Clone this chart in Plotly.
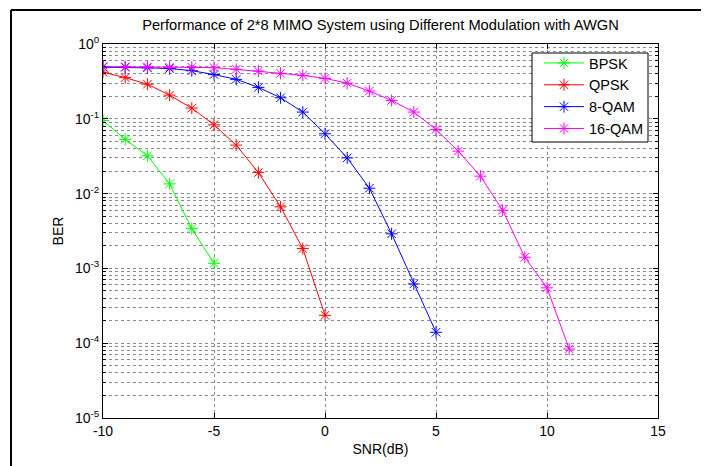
import plotly.graph_objects as go

# ---- data ----
snr_bpsk = [-10, -9, -8, -7, -6, -5]
ber_bpsk = [0.095, 0.053, 0.032, 0.0135, 0.0034, 0.00117]

snr_qpsk = [-10, -9, -8, -7, -6, -5, -4, -3, -2, -1, 0]
ber_qpsk = [0.42, 0.355, 0.29, 0.207, 0.139, 0.083, 0.0445, 0.0191, 0.00665, 0.00184, 0.000236]

snr_8qam = [-10, -9, -8, -7, -6, -5, -4, -3, -2, -1, 0, 1, 2, 3, 4, 5]
ber_8qam = [0.49, 0.488, 0.48, 0.47, 0.44, 0.39, 0.337, 0.263, 0.191, 0.123, 0.063,
            0.030, 0.0118, 0.0029, 0.00062, 0.00014]

snr_16qam = [-10, -9, -8, -7, -6, -5, -4, -3, -2, -1, 0, 1, 2, 3, 4, 5, 6, 7, 8, 9, 10, 11]
ber_16qam = [0.498, 0.497, 0.495, 0.49, 0.488, 0.483, 0.458, 0.435, 0.405, 0.381, 0.347,
             0.30, 0.235, 0.176, 0.123, 0.072, 0.037, 0.0171, 0.006, 0.00141, 0.00055, 0.0000836]

series_names = ["BPSK", "QPSK", "8-QAM", "16-QAM"]
series_colors = ["#00FF00", "#FF0000", "#0000FF", "#FF00FF"]

x_ticks = [-10, -5, 0, 5, 10, 15]
y_major = [1e-5, 1e-4, 1e-3, 1e-2, 1e-1, 1e0]
y_major_text = ["10<sup>-5</sup>", "10<sup>-4</sup>", "10<sup>-3</sup>",
                "10<sup>-2</sup>", "10<sup>-1</sup>", "10<sup>0</sup>"]
y_minor = [m * d for d in [1e-5, 1e-4, 1e-3, 1e-2, 1e-1] for m in range(2, 10)]

title_text = "Performance of 2*8 MIMO System using Different Modulation with AWGN"

FONT = "Liberation Sans, Arial, sans-serif"
GRID = "#8a8a8a"

# page offset from the default body margin
OX, OY = 8, 8
W, H = 709 - OX, 466 - OY
# plot area in page pixels (reference), converted to figure pixels
L, R, T, B = 103 - OX, 658 - OX, 44 - OY, 418 - OY
PW, PH = R - L, B - T


def px(xp):  # page x pixel -> paper fraction
    return (xp - OX - L) / PW


def py(yp):  # page y pixel -> paper fraction
    return (B - (yp - OY)) / PH


fig = go.Figure()
data = [(snr_bpsk, ber_bpsk), (snr_qpsk, ber_qpsk), (snr_8qam, ber_8qam), (snr_16qam, ber_16qam)]
for (xs, ys), name, col in zip(data, series_names, series_colors):
    fig.add_trace(go.Scatter(
        x=xs, y=ys, name=name, mode="lines+markers",
        line=dict(color=col, width=1),
        marker=dict(symbol="asterisk-open", size=10, color=col, line=dict(color=col, width=1)),
    ))

fig.update_layout(
    width=W, height=H,
    margin=dict(l=L, r=W - R, t=T, b=H - B, autoexpand=False),
    paper_bgcolor="white", plot_bgcolor="white",
    font=dict(family=FONT, size=14, color="black"),
    title=dict(text=title_text, x=(L + R) / 2 / W, xanchor="center",
               y=1 - (25 - OY) / H, yanchor="middle", font=dict(family=FONT, size=14.7, color="black")),
    showlegend=True,
    legend=dict(x=px(648), xanchor="right", y=py(47), yanchor="top",
                bgcolor="rgba(0,0,0,0)", borderwidth=0,
                font=dict(family=FONT, size=14.5, color="black"),
                itemwidth=40, tracegroupgap=0),
)

fig.update_xaxes(
    range=[-10, 15], tickvals=x_ticks, ticktext=[str(v) for v in x_ticks],
    showline=True, linecolor="black", linewidth=1, mirror="allticks",
    ticks="inside", ticklen=5, tickcolor="black",
    showgrid=True, gridcolor=GRID, griddash="dot", gridwidth=1,
    zeroline=False, automargin=False,
    title=dict(text="SNR(dB)", standoff=6, font=dict(family=FONT, size=14)),
    tickfont=dict(family=FONT, size=14),
)
fig.update_yaxes(
    type="log", range=[-5, 0], tickvals=y_major, ticktext=y_major_text,
    showline=True, linecolor="black", linewidth=1, mirror="allticks",
    ticks="inside", ticklen=5, tickcolor="black",
    showgrid=True, gridcolor=GRID, griddash="dot", gridwidth=1,
    zeroline=False, automargin=False,
    minor=dict(tickvals=y_minor, ticks="inside", ticklen=3, tickcolor="black",
               showgrid=True, gridcolor=GRID, griddash="dot", gridwidth=1),
    title=dict(text="BER", standoff=8, font=dict(family=FONT, size=14)),
    tickfont=dict(family=FONT, size=14),
)

# legend box (opaque, black border)
fig.add_shape(type="rect", xref="paper", yref="paper", layer="above",
              x0=px(532), x1=px(648), y0=py(142), y1=py(53),
              fillcolor="white", line=dict(color="black", width=1))

# figure frame lines (top and left), as in the reference screenshot
fig.add_shape(type="line", xref="paper", yref="paper",
              x0=px(11), x1=px(720), y0=py(10), y1=py(10),
              line=dict(color="black", width=2))
fig.add_shape(type="line", xref="paper", yref="paper",
              x0=px(11), x1=px(11), y0=py(10), y1=py(480),
              line=dict(color="black", width=2))

fig.write_html("out.html")
